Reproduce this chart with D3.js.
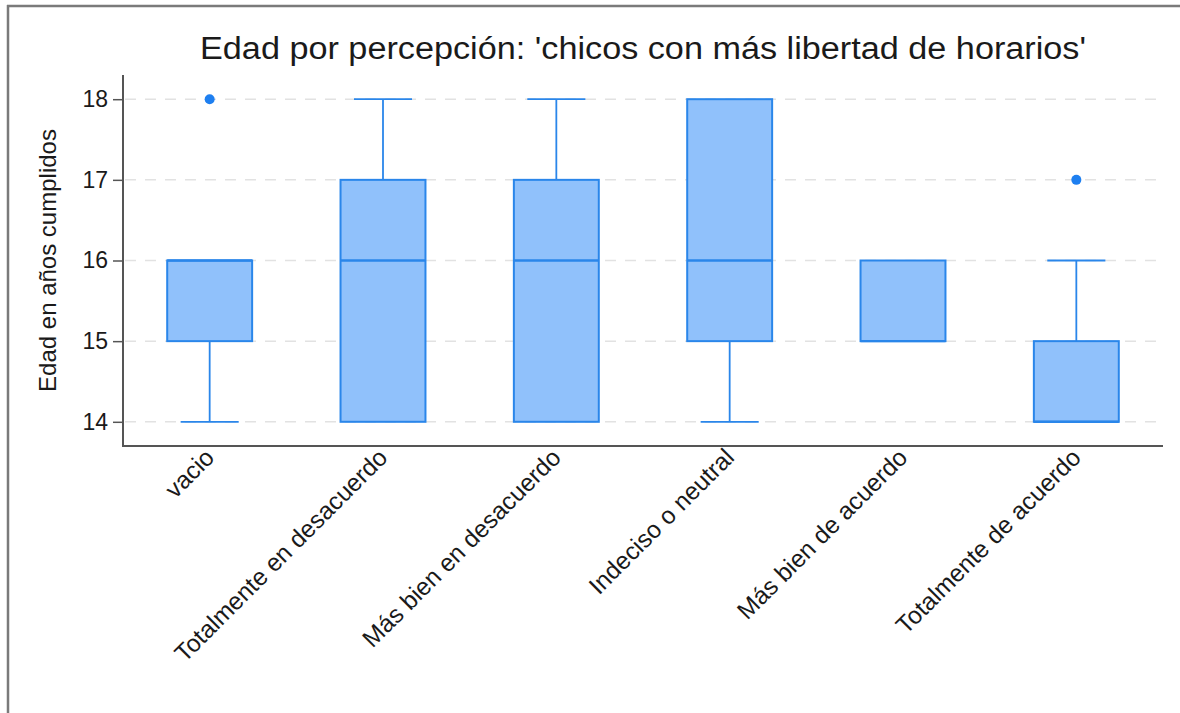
<!DOCTYPE html>
<html>
<head>
<meta charset="utf-8">
<script src="https://cdn.jsdelivr.net/npm/d3@7"></script>
<style>
  html, body { margin: 0; padding: 0; background: #fff; }
  text { font-family: "Liberation Sans", Arial, Helvetica, sans-serif; fill: #1a1a1a; }
</style>
</head>
<body>
<svg id="chart" width="1180" height="713"></svg>
<script>
const categories = ["vacio", "Totalmente en desacuerdo", "Más bien en desacuerdo", "Indeciso o neutral", "Más bien de acuerdo", "Totalmente de acuerdo"];
const whiskerLow  = [14, 14, 14, 14, 15, 14];
const q1          = [15, 14, 14, 15, 15, 14];
const median      = [16, 16, 16, 16, 15, 14];
const q3          = [16, 17, 17, 18, 16, 15];
const whiskerHigh = [16, 18, 18, 18, 16, 16];
const outliers    = [[18], [], [], [], [], [17]];
const yTicks = [14, 15, 16, 17, 18];
const titleText = "Edad por percepción: 'chicos con más libertad de horarios'";
const yLabel = "Edad en años cumplidos";

const rows = categories.map((c, i) => ({
  cat: c, lo: whiskerLow[i], q1: q1[i], med: median[i], q3: q3[i], hi: whiskerHigh[i], out: outliers[i]
}));

const svg = d3.select("#chart");
const W = 1180, H = 713;
const plot = { left: 123, right: 1163, top: 75, bottom: 446 };

svg.append("rect").attr("width", W).attr("height", H).attr("fill", "#fff");
// outer frame
svg.append("line").attr("x1", 8).attr("x2", 8).attr("y1", 5).attr("y2", H)
  .attr("stroke", "#7a7a7a").attr("stroke-width", 2.5);
svg.append("line").attr("x1", 7).attr("x2", W).attr("y1", 6).attr("y2", 6)
  .attr("stroke", "#7a7a7a").attr("stroke-width", 2.5);

const x = d3.scaleBand().domain(categories).range([plot.left, plot.right]).padding(0);
const y = d3.scaleLinear().domain([13.7, 18.3]).range([plot.bottom, plot.top]);

const boxFill = "#90c1fb", boxStroke = "#2a86ea", outColor = "#1e7ff0";
const boxW = x.bandwidth() * 0.49;
const capW = x.bandwidth() * 0.335;

// grid
svg.append("g").selectAll("line").data(yTicks).join("line")
  .attr("x1", plot.left + 2).attr("x2", plot.right - 4)
  .attr("y1", d => y(d)).attr("y2", d => y(d))
  .attr("stroke", "#e2e2e2").attr("stroke-width", 1.5)
  .attr("stroke-dasharray", "11,9");

// y axis
const yAxis = svg.append("g").attr("transform", `translate(${plot.left},0)`)
  .call(d3.axisLeft(y).tickValues(yTicks).tickSize(10).tickPadding(5).tickFormat(d3.format("d")));
yAxis.select(".domain").attr("d", `M0,${plot.top}V${plot.bottom + 1}`).attr("stroke", "#555").attr("stroke-width", 2);
yAxis.selectAll(".tick line").attr("stroke", "#555").attr("stroke-width", 1.5);
yAxis.selectAll(".tick text").attr("font-size", 23).attr("fill", "#1a1a1a")
  .style("font-family", '"Liberation Sans", Arial, sans-serif');

// x axis
const xAxis = svg.append("g").attr("transform", `translate(0,${plot.bottom})`)
  .call(d3.axisBottom(x).tickSize(0).tickPadding(0));
xAxis.select(".domain").attr("d", `M${plot.left - 1},0H${plot.right}`).attr("stroke", "#555").attr("stroke-width", 2);
xAxis.selectAll(".tick text")
  .attr("font-size", 24.5).attr("fill", "#1a1a1a")
  .style("font-family", '"Liberation Sans", Arial, sans-serif')
  .attr("text-anchor", "end")
  .attr("dy", 0).attr("y", 0)
  .attr("transform", "translate(6,13) rotate(-45)");

// boxes
const g = svg.append("g");
rows.forEach(d => {
  const cx = x(d.cat) + x.bandwidth() / 2;
  const gg = g.append("g");
  if (d.lo < d.q1) {
    gg.append("line").attr("x1", cx).attr("x2", cx).attr("y1", y(d.q1)).attr("y2", y(d.lo))
      .attr("stroke", boxStroke).attr("stroke-width", 1.8);
    gg.append("line").attr("x1", cx - capW / 2).attr("x2", cx + capW / 2).attr("y1", y(d.lo)).attr("y2", y(d.lo))
      .attr("stroke", boxStroke).attr("stroke-width", 1.8);
  }
  if (d.hi > d.q3) {
    gg.append("line").attr("x1", cx).attr("x2", cx).attr("y1", y(d.q3)).attr("y2", y(d.hi))
      .attr("stroke", boxStroke).attr("stroke-width", 1.8);
    gg.append("line").attr("x1", cx - capW / 2).attr("x2", cx + capW / 2).attr("y1", y(d.hi)).attr("y2", y(d.hi))
      .attr("stroke", boxStroke).attr("stroke-width", 1.8);
  }
  gg.append("rect").attr("x", cx - boxW / 2).attr("width", boxW)
    .attr("y", y(d.q3)).attr("height", y(d.q1) - y(d.q3))
    .attr("fill", boxFill).attr("stroke", boxStroke).attr("stroke-width", 2);
  gg.append("line").attr("x1", cx - boxW / 2).attr("x2", cx + boxW / 2).attr("y1", y(d.med)).attr("y2", y(d.med))
    .attr("stroke", boxStroke).attr("stroke-width", 2.4);
  gg.selectAll("circle").data(d.out).join("circle")
    .attr("cx", cx).attr("cy", v => y(v)).attr("r", 5).attr("fill", outColor);
});

// title
svg.append("text").attr("x", (plot.left + plot.right) / 2).attr("y", 59)
  .attr("text-anchor", "middle").attr("font-size", 31)
  .attr("textLength", 886).attr("lengthAdjust", "spacingAndGlyphs")
  .text(titleText);

// y label
svg.append("text").attr("transform", `translate(56,${(plot.top + plot.bottom) / 2}) rotate(-90)`)
  .attr("text-anchor", "middle").attr("font-size", 24).text(yLabel);
</script>
</body>
</html>
